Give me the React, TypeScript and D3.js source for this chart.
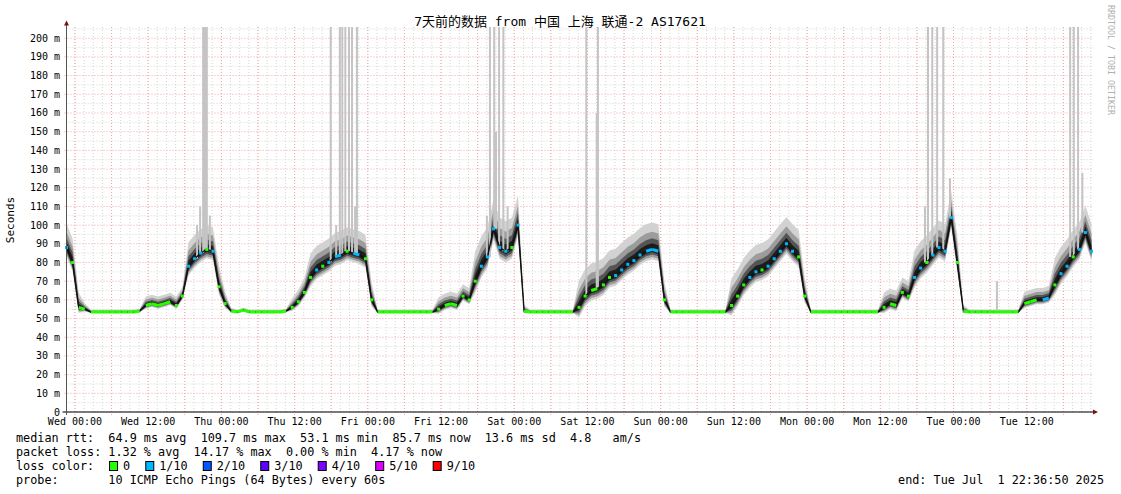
import React from 'react';
import * as d3 from 'd3';

const TITLE = '7天前的数据 from 中国 上海 联通-2 AS17621';
const START = new Date(2025, 5, 24, 22, 36, 50);
const END = new Date(2025, 6, 1, 22, 36, 50);

// hourly median RTT (ms), index = hours after START
const medianRtt = [
  88, 80, 56, 55, 53.5, 53.5, 53.5, 53.5, 53.5, 53.5, 53.5, 53.5, 54, 57, 58, 57, 58, 59, 57, 62,
  78, 82, 85, 87, 86, 67, 58, 54, 53.5, 54.5, 53.5, 53.5, 53.5, 53.5, 53.5, 53.5, 54, 56, 59, 64,
  72, 76, 78, 80, 83, 84, 86, 85, 84, 82, 60, 53.5, 53.5, 53.5, 53.5, 53.5, 53.5, 53.5, 53.5, 53.5,
  53.5, 55, 57, 58, 57, 62, 60, 70, 78, 83, 98, 88, 86, 88, 100, 54, 53.5, 53.5, 53.5, 53.5,
  53.5, 53.5, 53.5, 53.5, 56, 62, 65, 66, 68, 72, 73, 76, 79, 81, 84, 86, 87, 86, 60, 53.5,
  53.5, 53.5, 53.5, 53.5, 53.5, 53.5, 53.5, 53.5, 53.5, 57, 62, 68, 72, 75, 76, 78, 82, 86, 90,
  86, 83, 62, 53.5, 53.5, 53.5, 53.5, 53.5, 53.5, 53.5, 53.5, 53.5, 53.5, 53.5, 53.5, 56, 58, 57,
  64, 62, 72, 77, 80, 84, 88, 86, 104, 80, 54, 53.5, 53.5, 53.5, 53.5, 53.5, 53.5, 53.5, 53.5, 53.5,
  58, 59, 60, 60, 61, 68, 74, 78, 83, 87, 96, 86,
];

// hourly smoke spread (ms) around the median
const smokeSpread = [
  8, 8, 5, 2, 0.8, 0.8, 0.8, 0.8, 0.8, 0.8, 0.8, 0.8, 0.8, 3, 3, 3, 3, 3, 3, 3,
  8, 8, 8, 8, 8, 7, 4, 1, 0.8, 0.8, 0.8, 0.8, 0.8, 0.8, 0.8, 0.8, 0.8, 3, 4, 5,
  8, 8, 8, 8, 8, 8, 8, 8, 8, 8, 6, 0.8, 0.8, 0.8, 0.8, 0.8, 0.8, 0.8, 0.8, 0.8,
  0.8, 4, 4, 4, 4, 4, 4, 10, 10, 10, 10, 10, 10, 10, 10, 2, 0.8, 0.8, 0.8, 0.8,
  0.8, 0.8, 0.8, 0.8, 9, 9, 9, 9, 9, 9, 9, 9, 9, 9, 9, 9, 9, 9, 6, 0.8,
  0.8, 0.8, 0.8, 0.8, 0.8, 0.8, 0.8, 0.8, 0.8, 9, 9, 9, 9, 9, 9, 9, 9, 9, 9,
  9, 9, 6, 0.8, 0.8, 0.8, 0.8, 0.8, 0.8, 0.8, 0.8, 0.8, 0.8, 0.8, 0.8, 5, 5, 5,
  5, 5, 9, 9, 9, 9, 9, 9, 9, 9, 2, 0.8, 0.8, 0.8, 0.8, 0.8, 0.8, 0.8, 0.8, 0.8,
  4, 4, 4, 4, 4, 9, 9, 9, 9, 9, 9, 9,
];

// hourly loss level (index into lossColors)
const lossLevel = [
  1, 0, 0, 0, 0, 0, 0, 0, 0, 0, 0, 0, 0, 0, 0, 0, 0, 0, 0, 0,
  1, 1, 1, 0, 1, 0, 0, 0, 0, 0, 0, 0, 0, 0, 0, 0, 0, 0, 0, 0,
  0, 1, 0, 1, 1, 1, 0, 1, 1, 0, 0, 0, 0, 0, 0, 0, 0, 0, 0, 0,
  0, 0, 0, 0, 0, 0, 0, 0, 1, 1, 1, 1, 1, 0, 1, 0, 0, 0, 0, 0,
  0, 0, 0, 0, 0, 0, 0, 0, 0, 0, 1, 1, 1, 1, 1, 1, 1, 1, 0, 0,
  0, 0, 0, 0, 0, 0, 0, 0, 0, 0, 0, 0, 1, 1, 0, 1, 1, 1, 1, 1,
  0, 0, 0, 0, 0, 0, 0, 0, 0, 0, 0, 0, 0, 0, 0, 0, 0, 0, 0, 1,
  1, 0, 1, 1, 1, 1, 0, 0, 0, 0, 0, 0, 0, 0, 0, 0, 0, 0, 0, 0,
  1, 1, 0, 1, 1, 0, 1, 1, 1, 1, 1, 1,
];

// isolated high pings (hours after START, top value in ms)
const spikeHours = [
  21.4, 21.9, 22.4, 22.7, 23.0, 23.5,
  43.3, 44.2, 44.8, 45.2, 45.7, 46.3, 46.8, 47.3, 47.6,
  68.9, 69.4, 70.1, 70.4, 70.9, 71.6, 72.3,
  85.2, 86.9, 87.1,
  140.7, 141.2, 141.9, 142.7, 143.7, 144.8,
  152.5, 164.5, 165.1, 165.8, 166.5,
];
const spikeTops = [
  100, 110, 206, 206, 206, 105,
  206, 100, 206, 206, 206, 206, 206, 110, 206,
  105, 206, 206, 150, 206, 206, 110,
  206, 160, 206,
  110, 206, 206, 206, 206, 125,
  70, 206, 206, 206, 128,
];

const lossLabels = ['0', '1/10', '2/10', '3/10', '4/10', '5/10', '9/10'];
const lossColors = ['#26ff00', '#00b8ff', '#0059ff', '#5e00ff', '#7e00ff', '#dd00ff', '#ff0000'];

const statLines = [
  'median rtt:  64.9 ms avg  109.7 ms max  53.1 ms min  85.7 ms now  13.6 ms sd  4.8   am/s',
  'packet loss: 1.32 % avg  14.17 % max  0.00 % min  4.17 % now',
];
const probeLine = 'probe:       10 ICMP Echo Pings (64 Bytes) every 60s';
const endLine = 'end: Tue Jul  1 22:36:50 2025';

const W = 1121;
const H = 494;
const X0 = 66.5;
const X1 = 1091.5;
const Y0 = 412;
const YTOP = 27;
const MONO = '"DejaVu Sans Mono", monospace';

export default function App() {
  const x = d3.scaleTime().domain([START, END]).range([X0, X1]);
  const y = d3.scaleLinear().domain([0, 206]).range([Y0, YTOP]);
  const tOf = (h: number) => new Date(START.getTime() + h * 3600e3);

  const idx = d3.range(medianRtt.length);
  const px = (i: number) => x(tOf(i));

  const bands = [
    { lo: 0.6, hi: 1.6, color: '#d2d2d2' },
    { lo: 0.45, hi: 1.05, color: '#9c9c9c' },
    { lo: 0.3, hi: 0.66, color: '#555555' },
    { lo: 0.16, hi: 0.36, color: '#1c1c1c' },
  ];
  const areaFor = (b: { lo: number; hi: number }) =>
    d3
      .area<number>()
      .x((i) => px(i))
      .y0((i) => y(medianRtt[i] - smokeSpread[i] * b.lo))
      .y1((i) => y(medianRtt[i] + smokeSpread[i] * b.hi))(idx) || '';

  const medLine = d3
    .line<number>()
    .x((i) => px(i))
    .y((i) => y(medianRtt[i]))(idx) || '';

  // grid
  const wed0 = new Date(2025, 5, 25, 0, 0, 0).getTime();
  const minorV: Date[] = [];
  for (let t = wed0 - 90 * 60e3; t >= START.getTime(); t -= 90 * 60e3) minorV.push(new Date(t));
  for (let t = wed0; t <= END.getTime() + 10 * 60e3; t += 90 * 60e3) minorV.push(new Date(t));
  const majorV = d3.timeHour.every(6)!.range(START, END);
  const labelV = d3.timeHour.every(12)!.range(START, END);
  const fmt = d3.timeFormat('%a %H:%M');
  const minorH = d3.range(5, 206, 10);
  const majorH = d3.range(0, 201, 10);

  const connected: boolean[] = idx.slice(0, -1).map(
    (i) => Math.abs(medianRtt[i + 1] - medianRtt[i]) <= 1.01 && lossLevel[i] === lossLevel[i + 1]
  );

  const lossX0 = 16 + 13 * 7.08;

  return (
    <svg width={W} height={H} style={{ display: 'block', position: 'absolute', left: 0, top: 0, background: '#fff' }}>
      <rect x={0} y={0} width={W} height={H} fill="#fff" />
      {/* grid */}
      {minorV.map((d, i) => (
        <line key={'mv' + i} x1={x(d)} x2={x(d)} y1={YTOP} y2={Y0} stroke="#d4d4d4" strokeDasharray="1,2" strokeWidth={1} />
      ))}
      {minorH.map((v) => (
        <line key={'mh' + v} x1={X0} x2={1093} y1={y(v)} y2={y(v)} stroke="#d4d4d4" strokeDasharray="1,2" strokeWidth={1} />
      ))}
      {majorV.map((d, i) => (
        <line key={'Mv' + i} x1={x(d)} x2={x(d)} y1={YTOP} y2={Y0 + 3} stroke="#f4a4a4" strokeDasharray="1,2" strokeWidth={1} />
      ))}
      {majorH.map((v) => (
        <line key={'Mh' + v} x1={X0 - 2} x2={1093} y1={y(v)} y2={y(v)} stroke="#f4a4a4" strokeDasharray="1,2" strokeWidth={1} />
      ))}

      {/* smoke */}
      {bands.map((b, i) => (
        <path key={'b' + i} d={areaFor(b)} fill={b.color} />
      ))}
      {/* spikes */}
      {spikeHours.map((h, i) => {
        const mi = Math.round(h);
        return (
          <rect
            key={'s' + i}
            x={x(tOf(h)) - 1}
            y={y(spikeTops[i])}
            width={2}
            height={Math.max(0, y(medianRtt[mi]) - y(spikeTops[i]))}
            fill="#c4c4c4"
          />
        );
      })}
      {/* median */}
      <path d={medLine} fill="none" stroke="#111" strokeWidth={1.4} />
      {connected.map((c, i) =>
        c ? (
          <line
            key={'c' + i}
            x1={px(i)}
            x2={px(i + 1)}
            y1={y(medianRtt[i])}
            y2={y(medianRtt[i + 1])}
            stroke={lossColors[lossLevel[i]]}
            strokeWidth={3}
          />
        ) : null
      )}
      {idx.map((i) =>
        (i === 0 || !connected[i - 1]) && (i === idx.length - 1 || !connected[i]) ? (
          <rect key={'d' + i} x={px(i) - 1.5} y={y(medianRtt[i]) - 1.5} width={3} height={3} fill={lossColors[lossLevel[i]]} />
        ) : null
      )}

      {/* axes */}
      <line x1={X0 - 4} x2={1094} y1={Y0} y2={Y0} stroke="#000" strokeWidth={1} />
      <line x1={X0} x2={X0} y1={24} y2={Y0 + 3} stroke="#555" strokeWidth={1} />
      <path d={`M${X0 - 2.5},25.5 L${X0},20.5 L${X0 + 2.5},25.5 Z`} fill="#7a1010" />
      <path d={`M1093,409.5 L1098,412 L1093,414.5 Z`} fill="#7a1010" />
      {labelV.map((d, i) => (
        <text key={'xl' + i} x={x(d)} y={425} textAnchor="middle" fontFamily={MONO} fontSize={10} fill="#000">
          {fmt(d)}
        </text>
      ))}
      {majorH.map((v) => (
        <text key={'yl' + v} x={60} y={y(v) + 3.5} textAnchor="end" fontFamily={MONO} fontSize={10} fill="#000" style={{ whiteSpace: 'pre' }}>
          {v === 0 ? '0' : `${v} m`}
        </text>
      ))}
      <text
        transform="translate(14,220) rotate(-90)"
        textAnchor="middle"
        fontFamily={MONO}
        fontSize={11}
        fill="#000"
      >
        Seconds
      </text>
      <text x={560} y={26} textAnchor="middle" fontFamily={'"DejaVu Sans Mono", "Noto Sans CJK SC", monospace'} fontSize={13} fill="#000" style={{ whiteSpace: 'pre' }}>
        {TITLE}
      </text>
      <text transform="translate(1108,5) rotate(90)" fontFamily={MONO} fontSize={8.3} fill="#b0b0b0">
        RRDTOOL / TOBI OETIKER
      </text>

      {/* legend */}
      {statLines.map((s, i) => (
        <text key={'st' + i} x={16} y={442 + i * 14} fontFamily={MONO} fontSize={11.8} fill="#000" style={{ whiteSpace: 'pre' }}>
          {s}
        </text>
      ))}
      <text x={16} y={470} fontFamily={MONO} fontSize={11.8} fill="#000" style={{ whiteSpace: 'pre' }}>
        loss color:
      </text>
      {(() => {
        let cx = lossX0;
        return lossLabels.map((l, i) => {
          const bx = cx + 1;
          const tx = cx + 15;
          cx = tx + (l.length + 2) * 7.08;
          return (
            <g key={'lg' + i}>
              <rect x={bx + 0.5} y={461.5} width={8} height={9} fill={lossColors[i]} stroke="#000" strokeWidth={1} />
              <text x={tx} y={470} fontFamily={MONO} fontSize={11.8} fill="#000">
                {l}
              </text>
            </g>
          );
        });
      })()}
      <text x={16} y={484} fontFamily={MONO} fontSize={11.8} fill="#000" style={{ whiteSpace: 'pre' }}>
        {probeLine}
      </text>
      <text x={1104} y={484} textAnchor="end" fontFamily={MONO} fontSize={11.8} fill="#000" style={{ whiteSpace: 'pre' }}>
        {endLine}
      </text>
    </svg>
  );
}
